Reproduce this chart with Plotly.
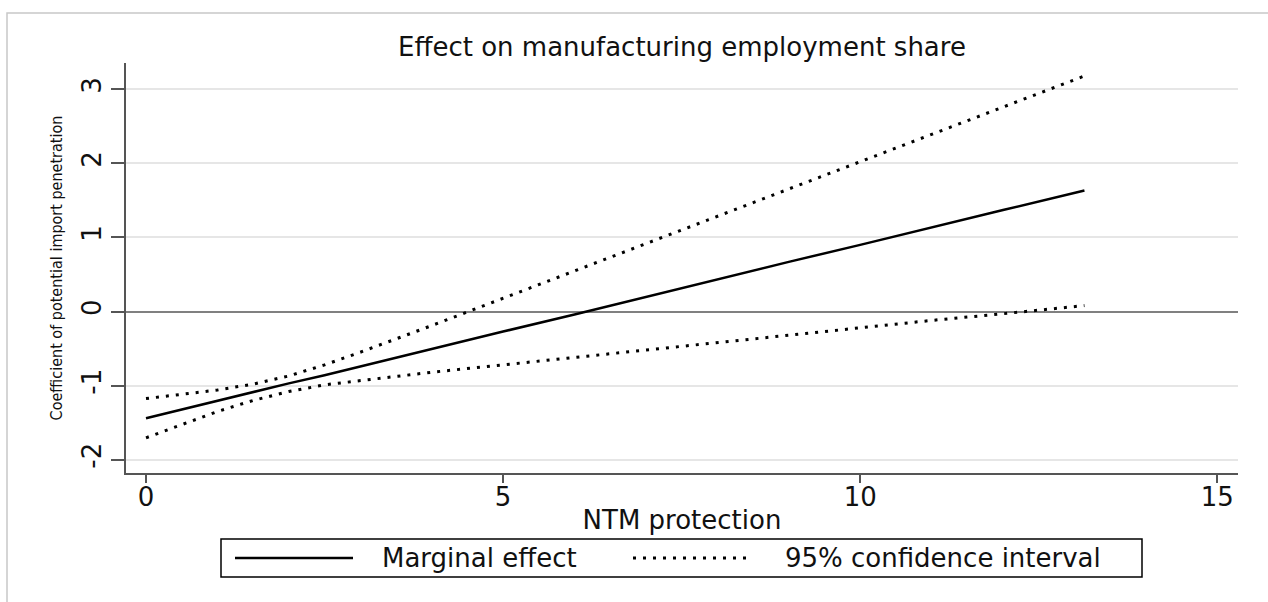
import plotly.graph_objects as go

# Marginal effect of potential import penetration evaluated along NTM protection
ntm = [0, 0.5, 1, 1.5, 2, 2.5, 3, 4, 5, 6, 7, 8, 9, 10, 11, 12, 13.14]
marginal_effect = [-1.44, -1.32, -1.21, -1.09, -0.97, -0.86, -0.74, -0.50, -0.27,
                   -0.04, 0.20, 0.43, 0.67, 0.90, 1.13, 1.37, 1.635]
ci_upper = [-1.175, -1.12, -1.06, -0.98, -0.87, -0.72, -0.55, -0.19, 0.18,
            0.55, 0.91, 1.28, 1.65, 2.02, 2.39, 2.76, 3.18]
ci_lower = [-1.705, -1.53, -1.35, -1.20, -1.08, -0.99, -0.93, -0.82, -0.72,
            -0.62, -0.52, -0.42, -0.32, -0.22, -0.12, -0.03, 0.08]

x_ticks = [0, 5, 10, 15]
y_ticks = [-2, -1, 0, 1, 2, 3]
y_tick_labels = ["-2", "-1", "0", "1", "2", "3"]

TITLE = "Effect on manufacturing employment share"
X_TITLE = "NTM protection"
Y_TITLE = "Coefficient of potential import penetration"
LEGEND_LABELS = ["Marginal effect", "95% confidence interval"]

# Page geometry (pixels) and helpers to place decorations in paper units
W, H = 1268, 602
L, R, T, B = 126, 30, 63, 129
PW, PH = W - L - R, H - T - B


def px_x(px):
    return (px - L) / PW


def px_y(py):
    return (H - B - py) / PH


FONT = "DejaVu Sans, Verdana, sans-serif"
NARROW = "Liberation Sans Narrow, Arial Narrow, DejaVu Sans Condensed, sans-serif"
FS = 26
INK = "#111111"
AXIS = "#555555"
DOT = "3px,7px"

fig = go.Figure()
fig.add_trace(go.Scatter(x=ntm, y=marginal_effect, mode="lines",
                         line=dict(color="black", width=2.5),
                         name=LEGEND_LABELS[0], showlegend=False))
fig.add_trace(go.Scatter(x=ntm, y=ci_upper, mode="lines",
                         line=dict(color="black", width=3, dash=DOT),
                         name=LEGEND_LABELS[1], showlegend=False))
fig.add_trace(go.Scatter(x=ntm, y=ci_lower, mode="lines",
                         line=dict(color="black", width=3, dash=DOT),
                         name=LEGEND_LABELS[1], showlegend=False))

shapes = [
    # outer graph region frame
    dict(type="rect", xref="paper", yref="paper",
         x0=px_x(7), x1=px_x(1300), y0=px_y(650), y1=px_y(13),
         line=dict(color="#c8c8c8", width=1.5), layer="below"),
    # legend box
    dict(type="rect", xref="paper", yref="paper",
         x0=px_x(221), x1=px_x(1142), y0=px_y(577), y1=px_y(539),
         line=dict(color="black", width=1.5), fillcolor="white"),
    dict(type="line", xref="paper", yref="paper",
         x0=px_x(235), x1=px_x(353), y0=px_y(558), y1=px_y(558),
         line=dict(color="black", width=2.5)),
    dict(type="line", xref="paper", yref="paper",
         x0=px_x(633), x1=px_x(749), y0=px_y(558), y1=px_y(558),
         line=dict(color="black", width=3, dash=DOT)),
]

annotations = [
    dict(text=LEGEND_LABELS[0], xref="paper", yref="paper",
         x=px_x(479), y=px_y(558), xanchor="center", yanchor="middle",
         showarrow=False, font=dict(family=FONT, size=FS, color=INK)),
    dict(text=LEGEND_LABELS[1], xref="paper", yref="paper",
         x=px_x(943), y=px_y(558), xanchor="center", yanchor="middle",
         showarrow=False, font=dict(family=FONT, size=FS, color=INK)),
]

fig.update_layout(
    width=W, height=H,
    margin=dict(l=L, r=R, t=T, b=B, autoexpand=False),
    paper_bgcolor="white", plot_bgcolor="white",
    showlegend=False,
    title=dict(text=TITLE, x=0.5, xref="paper", xanchor="center",
               y=1 - 47 / H, yref="container", yanchor="middle",
               font=dict(family=FONT, size=FS, color=INK)),
    xaxis=dict(range=[-0.28, 15.29], tickvals=x_ticks, showgrid=False,
               zeroline=False, showline=True, linecolor=AXIS, linewidth=1.5,
               ticks="outside", ticklen=8, tickwidth=1.5, tickcolor=AXIS,
               ticklabelstandoff=-8,
               tickfont=dict(family=FONT, size=FS, color=INK),
               title=dict(text=X_TITLE, standoff=0,
                          font=dict(family=FONT, size=FS, color=INK)),
               automargin=False),
    yaxis=dict(range=[-2.18, 3.355], tickvals=y_ticks, ticktext=y_tick_labels,
               tickangle=-90,
               showgrid=True, gridcolor="#e6e6e6", gridwidth=2,
               zeroline=True, zerolinecolor="#808080", zerolinewidth=1.5,
               showline=True, linecolor=AXIS, linewidth=1.5,
               ticks="outside", ticklen=13, tickwidth=1.5, tickcolor=AXIS,
               tickfont=dict(family=FONT, size=FS, color=INK),
               title=dict(text=Y_TITLE, standoff=10,
                          font=dict(family=NARROW, size=16, color=INK)),
               automargin=False),
    shapes=shapes,
    annotations=annotations,
)

fig.write_html("out.html")
